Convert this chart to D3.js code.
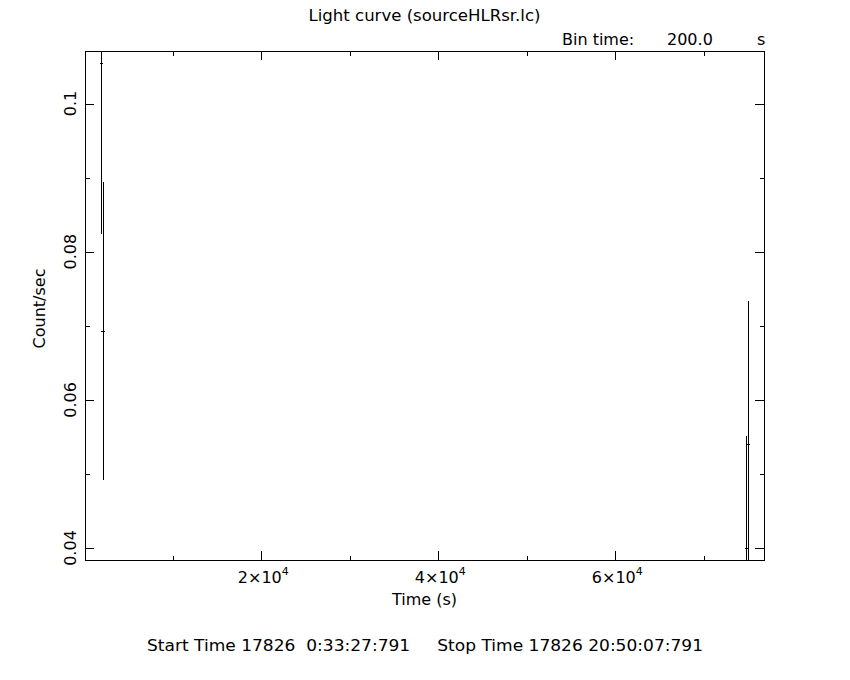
<!DOCTYPE html>
<html>
<head>
<meta charset="utf-8">
<script src="https://cdn.jsdelivr.net/npm/d3@7"></script>
<style>
  html, body { margin: 0; padding: 0; background: #fff; }
  svg { display: block; }
  text { font-family: "DejaVu Sans", "Liberation Sans", sans-serif; fill: #000; }
</style>
</head>
<body>
<svg id="chart" width="850" height="680"></svg>
<script>
// ---- data ----
const times  = [1900, 2100, 74800, 75000];          // s
const rates  = [0.1055, 0.0693, 0.03996, 0.0541];   // count/sec
const errors = [0.0231, 0.0201, 0.0152, 0.0193];    // 1-sigma
const binHalfWidth = 100;                            // bin time 200 s

const xMajorTicks = [20000, 40000, 60000];
const xMajorMantissa = ["2", "4", "6"];
const xMinorTicks = [10000, 30000, 50000, 70000];
const yMajorTicks = [0.04, 0.06, 0.08, 0.1];
const yTickLabels = ["0.04", "0.06", "0.08", "0.1"];
const yMinorTicks = [0.05, 0.07, 0.09];

const titleText = "Light curve (sourceHLRsr.lc)";
const binLabel = "Bin time:";
const binValue = "200.0";
const binUnit = "s";
const xLabel = "Time (s)";
const yLabel = "Count/sec";
const footerText = "Start Time 17826  0:33:27:791     Stop Time 17826 20:50:07:791";

// ---- layout ----
const L = 85, R = 764, T = 51, B = 560;
const FS = "16px";
const svg = d3.select("#chart");

const x = d3.scaleLinear().domain([80, 76800]).range([L, R]);
const y = d3.scaleLinear().domain([0.03838, 0.10709]).range([B, T]);

const MAJ = 9, MIN = 4.5;

const g = svg.append("g").attr("shape-rendering", "crispEdges")
  .attr("stroke", "#000").attr("stroke-width", 1).attr("fill", "none");

// frame
g.append("rect").attr("x", L + 0.5).attr("y", T + 0.5)
  .attr("width", R - L).attr("height", B - T);

// x ticks (bottom and top, pointing inward)
function xt(v, len) {
  const px = Math.round(x(v)) + 0.5;
  g.append("line").attr("x1", px).attr("x2", px).attr("y1", B).attr("y2", B - len);
  g.append("line").attr("x1", px).attr("x2", px).attr("y1", T).attr("y2", T + len);
}
xMajorTicks.forEach(v => xt(v, MAJ));
xMinorTicks.forEach(v => xt(v, MIN));

// y ticks (left and right, inward)
function yt(v, len) {
  const py = Math.round(y(v)) + 0.5;
  g.append("line").attr("x1", L).attr("x2", L + len).attr("y1", py).attr("y2", py);
  g.append("line").attr("x1", R).attr("x2", R - len).attr("y1", py).attr("y2", py);
}
yMajorTicks.forEach(v => yt(v, MAJ));
yMinorTicks.forEach(v => yt(v, MIN));

// data with clipping
svg.append("clipPath").attr("id", "clip").append("rect")
  .attr("x", L).attr("y", T).attr("width", R - L).attr("height", B - T);
const dg = svg.append("g").attr("clip-path", "url(#clip)")
  .attr("stroke", "#000").attr("stroke-width", 1).attr("shape-rendering", "crispEdges");
const pts = times.map((t, i) => ({ t, r: rates[i], e: errors[i] }));
dg.selectAll("line.ev").data(pts).enter().append("line").attr("class", "ev")
  .attr("x1", d => Math.round(x(d.t)) + 0.5).attr("x2", d => Math.round(x(d.t)) + 0.5)
  .attr("y1", d => y(d.r - d.e)).attr("y2", d => y(d.r + d.e));
dg.selectAll("line.eh").data(pts).enter().append("line").attr("class", "eh")
  .attr("x1", d => x(d.t - binHalfWidth) - 0.5).attr("x2", d => x(d.t + binHalfWidth) + 1.5)
  .attr("y1", d => Math.round(y(d.r)) + 0.5).attr("y2", d => Math.round(y(d.r)) + 0.5);

// x tick labels with superscript
xMajorTicks.forEach((v, i) => {
  const t = svg.append("text").attr("x", x(v) + 2).attr("y", 583)
    .attr("text-anchor", "middle").style("font-size", FS);
  t.append("tspan").text(xMajorMantissa[i] + "\u00d710");
  t.append("tspan").attr("dy", -8).style("font-size", "11px").text("4");
});

// y tick labels (rotated)
yMajorTicks.forEach((v, i) => {
  svg.append("text").attr("transform", `translate(76,${y(v)}) rotate(-90)`)
    .attr("text-anchor", "middle").style("font-size", FS).text(yTickLabels[i]);
});

// axis labels
svg.append("text").attr("x", (L + R) / 2).attr("y", 605).attr("text-anchor", "middle")
  .style("font-size", FS).text(xLabel);
svg.append("text").attr("transform", `translate(45,${(T + B) / 2 + 3}) rotate(-90)`)
  .attr("text-anchor", "middle").style("font-size", FS).text(yLabel);

// title & bin time
svg.append("text").attr("x", (L + R) / 2).attr("y", 21).attr("text-anchor", "middle")
  .style("font-size", FS).attr("textLength", 232).attr("lengthAdjust", "spacingAndGlyphs")
  .text(titleText);
svg.append("text").attr("x", 562).attr("y", 45).style("font-size", FS).text(binLabel);
svg.append("text").attr("x", 667).attr("y", 45).style("font-size", FS).text(binValue);
svg.append("text").attr("x", 757).attr("y", 45).style("font-size", FS).text(binUnit);

// footer
svg.append("text").attr("x", 425).attr("y", 651).attr("text-anchor", "middle")
  .style("font-size", "15px").attr("textLength", 556).attr("lengthAdjust", "spacingAndGlyphs")
  .attr("xml:space", "preserve").style("white-space", "pre").text(footerText);
</script>
</body>
</html>
